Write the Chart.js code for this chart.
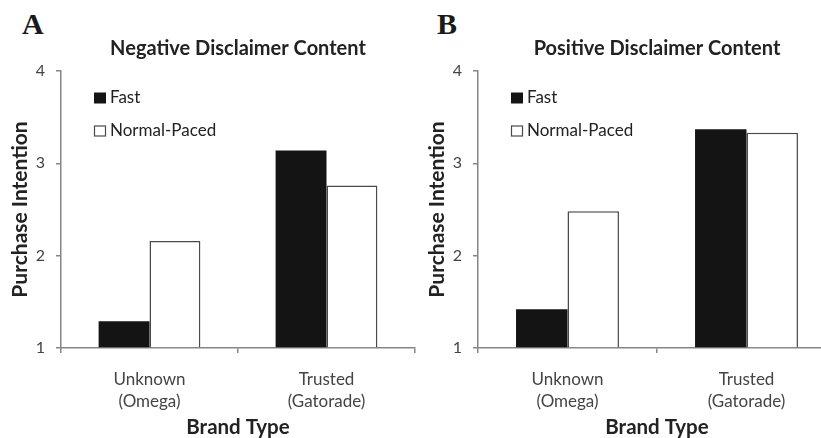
<!DOCTYPE html>
<html>
<head>
<meta charset="utf-8">
<script src="https://cdn.jsdelivr.net/npm/chart.js@4.4.1/dist/chart.umd.min.js"></script>
<style>
  html, body { margin: 0; padding: 0; background: #fff; }
  body { width: 821px; height: 438px; overflow: hidden; position: relative; }
  .panel { position: absolute; top: 0; width: 424px; height: 438px; }
  .letter { position: absolute; top: 9px; font: bold 30px/30px "Liberation Serif", "DejaVu Serif", serif; color: #1a1a1a; }
</style>
</head>
<body>
<div class="letter" style="left:22px">A</div>
<div class="letter" style="left:437px">B</div>
<div class="panel" style="left:0;width:420px"><canvas id="chart-a"></canvas></div>
<div class="panel" style="left:417px"><canvas id="chart-b"></canvas></div>
<script>
  const categories = [["Unknown", "(Omega)"], ["Trusted", "(Gatorade)"]];
  const seriesNames = ["Fast", "Normal-Paced"];
  const negativeFast = [1.29, 3.14];
  const negativeNormal = [2.16, 2.76];
  const positiveFast = [1.42, 3.37];
  const positiveNormal = [2.48, 3.33];
  const yTicks = [1, 2, 3, 4];

  Chart.defaults.font.family = "Lato, 'Open Sans', sans-serif";
  Chart.defaults.color = "#333";
  const axisGray = "#858585";

  // legend sits inside the plot, top-left, like the original figure
  const innerLegend = {
    id: "innerLegend",
    afterDraw(chart) {
      const { ctx, chartArea } = chart;
      ctx.save();
      ctx.font = "17px Lato, sans-serif";
      ctx.textBaseline = "middle";
      chart.data.datasets.forEach((ds, i) => {
        const x = chartArea.left + 33;
        const yc = chartArea.top + 27 + i * 33;
        ctx.fillStyle = ds.backgroundColor;
        ctx.fillRect(x, yc - 5.5, 12, 11);
        if (ds.borderWidth) {
          ctx.strokeStyle = ds.borderColor;
          ctx.lineWidth = 1.2;
          ctx.strokeRect(x + 0.5, yc - 5, 11, 10);
        }
        ctx.fillStyle = "#222";
        ctx.fillText(ds.label, x + 16, yc);
      });
      ctx.restore();
    }
  };

  function makeChart(id, title, fast, normal) {
    return new Chart(document.getElementById(id), {
      type: "bar",
      data: {
        labels: categories,
        datasets: [
          { label: seriesNames[0], data: fast, base: 1, backgroundColor: "#141414", borderWidth: 0 },
          { label: seriesNames[1], data: normal, base: 1, backgroundColor: "#ffffff", borderColor: "#4a4a4a", borderWidth: 1.5 }
        ]
      },
      options: {
        responsive: false,
        animation: false,
        layout: { padding: { left: 0, right: 5, top: 0, bottom: 0 } },
        datasets: { bar: { categoryPercentage: 0.575, barPercentage: 1 } },
        plugins: {
          legend: { display: false },
          tooltip: { enabled: false },
          title: {
            display: true, text: title, fullSize: false, color: "#222",
            font: { size: 20, weight: "bold" }, padding: { top: 37, bottom: 10 }
          }
        },
        scales: {
          x: {
            offset: true,
            grid: { offset: true, drawOnChartArea: false, tickLength: 5, color: axisGray, lineWidth: 1.5 },
            border: { color: axisGray, width: 1.5 },
            ticks: { font: { size: 17, lineHeight: 1.3 }, color: "#444", padding: 15, maxRotation: 0 },
            title: { display: true, text: "Brand Type", color: "#222", font: { size: 20.5, weight: "bold", lineHeight: 1 }, padding: 0 },
            afterFit(s) { s.height = 90; }
          },
          y: {
            min: 1, max: 4,
            afterBuildTicks(s) { s.ticks = yTicks.map(v => ({ value: v })); },
            grid: { drawOnChartArea: false, tickLength: 5, color: axisGray, lineWidth: 1.5 },
            border: { color: axisGray, width: 1.5 },
            ticks: { font: { size: 16 }, color: "#444", padding: 11 },
            title: { display: true, text: "Purchase Intention", color: "#222", font: { size: 21, weight: "bold" }, padding: { top: 8, bottom: 0 } },
            afterFit(s) { s.width = 61; }
          }
        }
      },
      plugins: [innerLegend]
    });
  }

  const canvasA = document.getElementById("chart-a");
  canvasA.width = 420; canvasA.height = 438;
  const canvasB = document.getElementById("chart-b");
  canvasB.width = 424; canvasB.height = 438;

  makeChart("chart-a", "Negative Disclaimer Content", negativeFast, negativeNormal);
  makeChart("chart-b", "Positive Disclaimer Content", positiveFast, positiveNormal);
</script>
</body>
</html>
